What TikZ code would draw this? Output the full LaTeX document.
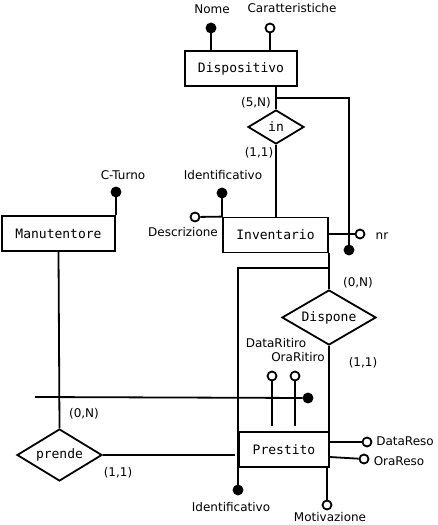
\documentclass[tikz,border=0pt]{standalone}
\usepackage{fontspec}
\setmainfont{DejaVu Sans}
\setmonofont{DejaVu Sans Mono}
\usetikzlibrary{shapes.geometric}

\begin{document}
\begin{tikzpicture}[x=1pt, y=-1pt, line width=1.8pt,
  entity/.style = { draw, rectangle, inner sep=0pt, minimum height=35pt,
                    font=\fontsize{13}{15}\ttfamily },
  rel/.style    = { draw, diamond, inner sep=0pt, aspect=1.7,
                    font=\fontsize{13}{15}\ttfamily },
  key/.style    = { draw, circle, fill=black, inner sep=0pt, minimum size=9pt },
  attr/.style   = { draw, circle, fill=white, inner sep=0pt, minimum size=9pt },
  lbl/.style    = { font=\fontsize{12}{14}\selectfont, inner sep=0pt }]
  \useasboundingbox (0,0) rectangle (437,525);

  % entities and relationships
  \node [entity, minimum width=112pt] (disp)  at (241,68.5)  {Dispositivo};
  \node [entity, minimum width=105pt] (inv)   at (275.5,235) {Inventario};
  \node [entity, minimum width=113pt] (man)   at (58.5,233.5) {Manutentore};
  \node [entity, minimum width=90pt]  (prest) at (284,449.5) {Prestito};
  \node [rel, minimum width=56pt, minimum height=34pt] (in)      at (276,127)   {in};
  \node [rel, minimum width=94pt, minimum height=55pt] (dispone) at (329,317.5) {Dispone};
  \node [rel, minimum width=85pt, minimum height=52pt] (prende)  at (59.5,455)  {prende};

  % attributes
  \node [key]  (nome)     at (211,28)  {};
  \node [attr] (caratt)   at (270,28)  {};
  \node [key]  (idinv)    at (222,193) {};
  \node [attr] (descr)    at (195,217) {};
  \node [attr] (nr)       at (360,234) {};
  \node [key]  (extinv)   at (349,250) {};
  \node [key]  (cturno)   at (116,192) {};
  \node [attr] (dritiro)  at (272,376) {};
  \node [attr] (oritiro)  at (295,376) {};
  \node [key]  (extprest) at (308,398) {};
  \node [key]  (idprest)  at (238,490) {};
  \node [attr] (dreso)    at (367,442) {};
  \node [attr] (oreso)    at (364,459) {};
  \node [attr] (motiv)    at (327,505) {};

  \coordinate (inbend)   at (276,98);
  \coordinate (dispbend) at (329,268);
  \coordinate (extfree)  at (35,397);

  % connectors
  \draw (in.north) -- (in.north |- disp.south);
  \draw (in.south) -- (in.south |- inv.north);
  \draw (inbend) -| (extinv);
  \draw (dispone.north) -- (dispone.north |- inv.south);
  \draw (dispbend) -| (idprest);
  \draw (dispone.south) -- (dispone.south |- prest.north);
  \draw (man.south) -- (prende.north);
  \draw [shorten >=3pt] (prende.east) -- (prest.west |- prende.east);
  \draw (extfree) -- (extprest);

  \foreach \a/\e in {nome/disp, caratt/disp, idinv/inv, cturno/man}
    \draw (\a) -- (\a |- \e.north);
  \foreach \a in {dritiro, oritiro}
    \draw [shorten >=5pt] (\a) -- (\a |- prest.north);
  \draw (motiv) -- (motiv |- prest.south);
  \draw (descr) -- (inv.north west);
  \draw (inv.east |- nr) -- (nr);
  \draw (prest.east |- dreso) -- (dreso);
  \draw (prest.east |- 0,457) -- (oreso);

  % labels
  \foreach \t/\x/\y in {Nome/212/9, Caratteristiche/292/8, Identificativo/223/175,
      Descrizione/183/232, nr/382/236, C-Turno/123/175, DataRitiro/276/343,
      OraRitiro/298/357, DataReso/405/441, OraReso/399/461,
      Identificativo/231/507, Motivazione/330/517,
      (5{,}N)/256/103, (1{,}1)/259/153, (0{,}N)/358/283, (1{,}1)/363/363,
      (0{,}N)/84/414, (1{,}1)/118/473}
    \node [lbl] at (\x,\y) {\t};
\end{tikzpicture}
\end{document}
